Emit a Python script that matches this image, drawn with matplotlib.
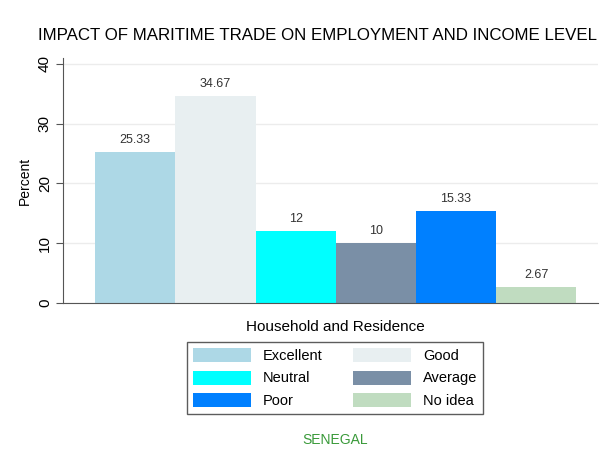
import matplotlib.pyplot as plt
from matplotlib.patches import Patch

plt.rcParams['font.family'] = ['Liberation Sans', 'DejaVu Sans']

# responses and their shares (percent)
categories = ["Excellent", "Good", "Neutral", "Average", "Poor", "No idea"]
percent = [25.33, 34.67, 12, 10, 15.33, 2.67]
value_labels = ["25.33", "34.67", "12", "10", "15.33", "2.67"]
colors = ["#add8e6", "#e8eff1", "#00ffff", "#7a8fa6", "#0080ff", "#c0dcc0"]
yticks = [0, 10, 20, 30, 40]

fig = plt.figure(figsize=(6.13, 4.53), dpi=100)
ax = fig.add_axes([63 / 613, 1 - 303 / 453, (598 - 63) / 613, (303 - 58) / 453])

x = list(range(len(categories)))
bars = ax.bar(x, percent, width=1.0, color=colors, edgecolor='none', zorder=2)
for rect, lab in zip(bars, value_labels):
    ax.text(rect.get_x() + rect.get_width() / 2, rect.get_height() + 1.0, lab,
            ha='center', va='bottom', fontsize=9, color='#333333')

ax.set_xlim(-0.9, 5.77)
ax.set_ylim(0, 41)
ax.set_yticks(yticks)
ax.set_yticklabels([str(t) for t in yticks], rotation=90, va='center', fontsize=11)
ax.set_xticks([])
ax.yaxis.grid(True, color='#ececec', linewidth=1, zorder=0)
ax.set_axisbelow(True)
for s in ['top', 'right']:
    ax.spines[s].set_visible(False)
ax.spines['left'].set_color('#555555')
ax.spines['bottom'].set_color('#555555')
ax.tick_params(axis='y', length=5, color='#555555', pad=3)
ax.set_ylabel("Percent", fontsize=10, labelpad=4)

fig.text(318 / 613, 1 - 36 / 453, "IMPACT OF MARITIME TRADE ON EMPLOYMENT AND INCOME LEVEL",
         ha='center', va='center', fontsize=12.2)
fig.text(335 / 613, 1 - 327 / 453, "Household and Residence", ha='center', va='center', fontsize=11)
fig.text(335 / 613, 1 - 440 / 453, "SENEGAL", ha='center', va='center', fontsize=10, color='#3a9a3a')

handles = [Patch(facecolor=c, edgecolor='none') for c in colors]
# order so columns read Excellent/Neutral/Poor then Good/Average/No idea
order = [0, 2, 4, 1, 3, 5]
leg = fig.legend([handles[i] for i in order], [categories[i] for i in order],
                 ncol=2, loc='center', bbox_to_anchor=(335 / 613, 1 - 378 / 453),
                 fontsize=10.5, frameon=True, fancybox=False, edgecolor='#333333',
                 handlelength=4.0, handleheight=1.1, columnspacing=2.1,
                 labelspacing=0.5, borderpad=0.4, handletextpad=0.8)
leg.get_frame().set_linewidth(1.0)

fig.savefig("out.png", dpi=100)
